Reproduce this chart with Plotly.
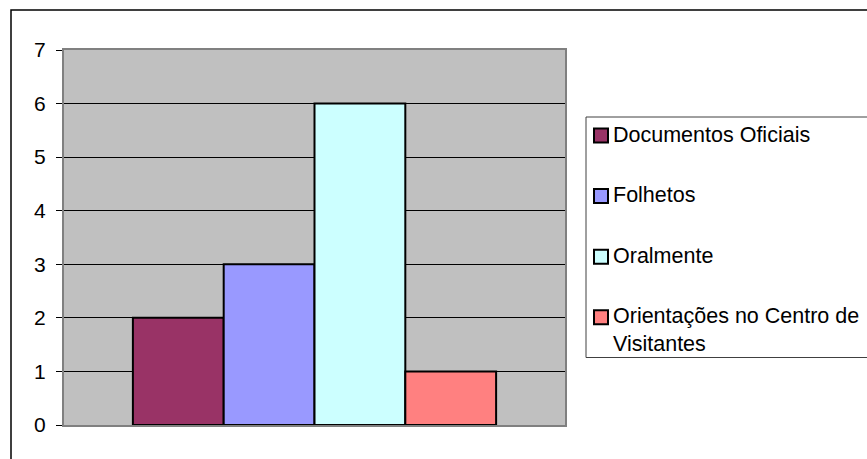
import plotly.graph_objects as go

# ---------------- data ----------------
series = ["Documentos Oficiais", "Folhetos", "Oralmente", "Orientações no Centro de<br>Visitantes"]
values = [2, 3, 6, 1]
colors = ["#993366", "#9999FF", "#CCFFFF", "#FF8080"]
y_ticks = [0, 1, 2, 3, 4, 5, 6, 7]

W, H = 867, 459
L, R, T, B = 64, 565, 50, 425   # plot area in px

FONT = dict(family="Liberation Sans, Arial, sans-serif", size=21, color="black")
LEG_FONT = dict(family="Liberation Sans, Arial, sans-serif", size=21.5, color="black")


def px_x(v):
    return (v - L) / (R - L)


def px_y(v):
    return 1 - (v - T) / (B - T)


fig = go.Figure()
for name, val, col in zip(series, values, colors):
    fig.add_trace(go.Bar(
        x=[""], y=[val], name=name.replace("<br>", " "),
        marker=dict(color=col, line=dict(color="black", width=2)),
    ))

# ---------------- legend (drawn by hand to match the Excel look) ----------------
shapes = [
    # outer chart border (runs off the right and bottom edges)
    dict(type="rect", xref="paper", yref="paper",
         x0=px_x(11), x1=px_x(W + 20), y0=px_y(H + 20), y1=px_y(10),
         line=dict(color="black", width=1.5), fillcolor="rgba(0,0,0,0)", layer="below"),
    # legend box
    dict(type="rect", xref="paper", yref="paper",
         x0=px_x(586), x1=px_x(W + 20), y0=px_y(357.5), y1=px_y(117),
         line=dict(color="#404040", width=1), fillcolor="rgba(0,0,0,0)", layer="below"),
]
annotations = []
for i, (name, col) in enumerate(zip(series, colors)):
    cy = 135.5 + i * 60.6
    shapes.append(dict(type="rect", xref="paper", yref="paper",
                       x0=px_x(594), x1=px_x(608), y0=px_y(cy + 7), y1=px_y(cy - 7),
                       line=dict(color="black", width=2), fillcolor=col))
    annotations.append(dict(xref="paper", yref="paper", x=px_x(611), y=px_y(cy - 15),
                            xanchor="left", yanchor="top", align="left",
                            text=name, showarrow=False, font=LEG_FONT))

fig.update_layout(
    width=W, height=H,
    margin=dict(l=L, r=W - R, t=T, b=H - B, pad=0),
    paper_bgcolor="white",
    plot_bgcolor="#C0C0C0",
    barmode="group",
    bargap=0.275,
    bargroupgap=0,
    font=FONT,
    showlegend=False,
    xaxis=dict(
        showticklabels=False, ticks="", showgrid=False,
        showline=True, linecolor="#808080", linewidth=2, mirror=True,
        zeroline=False,
    ),
    yaxis=dict(
        range=[0, 7], tickvals=y_ticks, ticks="outside", ticklen=6,
        tickcolor="black", tickwidth=1,
        showgrid=True, gridcolor="black", gridwidth=1,
        showline=True, linecolor="#808080", linewidth=2, mirror=True,
        zeroline=False, ticklabelstandoff=6,
        tickfont=FONT,
    ),
    shapes=shapes,
    annotations=annotations,
)

# drop the page's default body margin so the figure sits at the window origin
fig.write_html("out.html", config={"displayModeBar": False},
               post_script="document.body.style.margin='0';")
